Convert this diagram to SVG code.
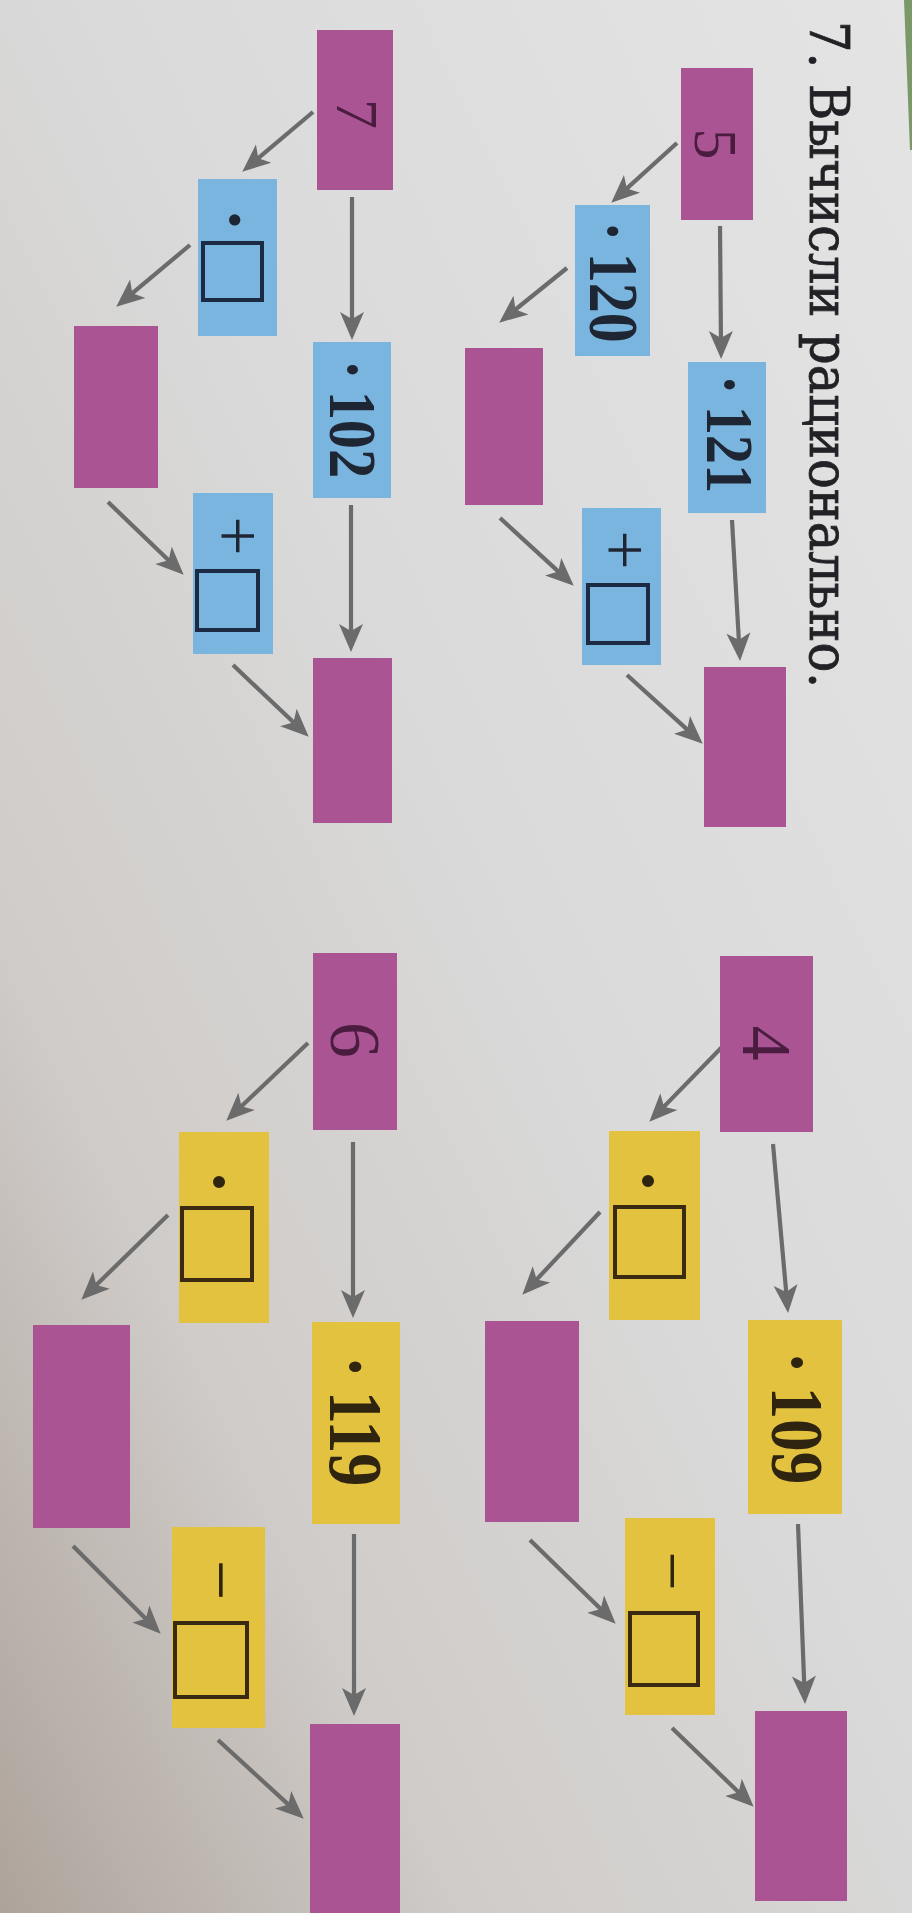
<svg xmlns="http://www.w3.org/2000/svg" width="912" height="1913" viewBox="0 0 912 1913">
<defs>
<linearGradient id="bg" x1="1" y1="0" x2="0" y2="1">
<stop offset="0" stop-color="#e4e4e4"/>
<stop offset="0.45" stop-color="#dadada"/>
<stop offset="0.75" stop-color="#cfcbc8"/>
<stop offset="1" stop-color="#ada39b"/>
</linearGradient>
<marker id="ah" markerUnits="userSpaceOnUse" viewBox="-17 -13 32 26" refX="0" refY="0" markerWidth="32" markerHeight="26" orient="auto">
<path d="M13,0 L-15,-12 L-8,0 L-15,12 Z" fill="#6b6b6b"/>
</marker>
<style>
.mag{fill:#aa5494}
.blu{fill:#7ab5df}
.yel{fill:#e3c23f}
.sq{fill:none;stroke-width:4}
.bsq{stroke:#1d2a44}
.ysq{stroke:#3a2a12}
.num{font-family:"Liberation Serif","Times New Roman",serif;font-weight:bold;text-anchor:middle}
.bt{fill:#1f2633}
.yt{fill:#2e2410}
.dig{font-family:"Liberation Serif","Times New Roman",serif;text-anchor:middle;fill:#4a1d40}
.op{font-family:"Liberation Serif","Times New Roman",serif;text-anchor:middle}
.title{font-family:"DejaVu Serif","Liberation Serif",serif;font-size:55px;fill:#222226;stroke:#222226;stroke-width:0.8}
#connectors line{stroke:#6b6b6b;stroke-width:4.2;fill:none;marker-end:url(#ah)}
</style>
</defs>
<rect x="0" y="0" width="912" height="1913" fill="url(#bg)"/>
<polygon points="904,0 912,0 912,150 910,150" fill="#7b9868"/>

<g id="title">
<text class="title" transform="translate(810,21) rotate(90)" x="0" y="0" textLength="667" lengthAdjust="spacingAndGlyphs">7. Вычисли рационально.</text>
</g>

<g id="connectors">
<line x1="720" y1="226" x2="721" y2="346"/>
<line x1="732" y1="520" x2="739.3" y2="648"/>
<line x1="677" y1="143" x2="620.9" y2="193.9"/>
<line x1="567" y1="268" x2="509.3" y2="314.5"/>
<line x1="500" y1="518" x2="564.2" y2="576.9"/>
<line x1="627" y1="675" x2="693.1" y2="734.9"/>

<line x1="352" y1="197" x2="352" y2="327"/>
<line x1="351" y1="505" x2="351" y2="639"/>
<line x1="313" y1="112" x2="252.2" y2="163.3"/>
<line x1="190" y1="245" x2="126.2" y2="298.3"/>
<line x1="108" y1="502" x2="174.3" y2="565.7"/>
<line x1="233" y1="665" x2="299.3" y2="727.8"/>

<line x1="773" y1="1144" x2="786.9" y2="1300"/>
<line x1="798" y1="1524" x2="804.5" y2="1691"/>
<line x1="723" y1="1046" x2="658.4" y2="1112.4"/>
<line x1="600" y1="1212" x2="531.2" y2="1285.3"/>
<line x1="530" y1="1540" x2="606.4" y2="1614.6"/>
<line x1="672" y1="1728" x2="744.3" y2="1797.7"/>

<line x1="353" y1="1142" x2="353" y2="1305"/>
<line x1="354" y1="1534" x2="354" y2="1703"/>
<line x1="308" y1="1043" x2="235.7" y2="1111.7"/>
<line x1="168" y1="1215" x2="90.6" y2="1290.6"/>
<line x1="73" y1="1546" x2="151.5" y2="1624.5"/>
<line x1="218" y1="1740" x2="294.2" y2="1809.9"/>
</g>

<!-- Diagram 1 -->
<g id="n5"><rect class="mag" x="681" y="68" width="72" height="152"/><text class="dig" font-size="62" transform="translate(716,144) rotate(90)" y="21">5</text></g>
<g id="n-mul121"><rect class="blu" x="688" y="362" width="78" height="151"/><text class="num bt" font-size="67" transform="translate(730,434) rotate(90) scale(0.87,1)" y="22.6">·<tspan dx="13">121</tspan></text></g>
<g id="n-res1"><rect class="mag" x="704" y="667" width="82" height="160"/></g>
<g id="n-mul120"><rect class="blu" x="575" y="205" width="75" height="151"/><text class="num bt" font-size="69" transform="translate(613,282) rotate(90) scale(0.87,1)" y="23.3">·<tspan dx="13">120</tspan></text></g>
<g id="n-mid1"><rect class="mag" x="465" y="348" width="78" height="157"/></g>
<g id="n-plus1"><rect class="blu" x="582" y="508" width="79" height="157"/><text class="op bt" font-size="70" transform="translate(618,550) rotate(90)" y="17.5">+</text><rect class="sq bsq" x="588" y="585" width="60" height="58"/></g>

<!-- Diagram 2 -->
<g id="n7"><rect class="mag" x="317" y="30" width="76" height="160"/><text class="dig" font-size="60" transform="translate(357,114) rotate(90)" y="20">7</text></g>
<g id="n-mul102"><rect class="blu" x="313" y="342" width="78" height="156"/><text class="num bt" font-size="67" transform="translate(353,419) rotate(90) scale(0.87,1)" y="22.6">·<tspan dx="13">102</tspan></text></g>
<g id="n-res2"><rect class="mag" x="313" y="658" width="79" height="165"/></g>
<g id="n-mulbox2"><rect class="blu" x="198" y="179" width="79" height="157"/><text class="num bt" font-size="70" transform="translate(230,220) rotate(90)" y="18">·</text><rect class="sq bsq" x="203" y="243" width="59" height="57"/></g>
<g id="n-mid2"><rect class="mag" x="74" y="326" width="84" height="162"/></g>
<g id="n-plus2"><rect class="blu" x="193" y="493" width="80" height="161"/><text class="op bt" font-size="70" transform="translate(231,536) rotate(90)" y="17.5">+</text><rect class="sq bsq" x="197" y="571" width="61" height="59"/></g>

<!-- Diagram 3 -->
<g id="n4"><rect class="mag" x="720" y="956" width="93" height="176"/><text class="dig" font-size="70" transform="translate(766,1043) rotate(90)" y="23.5">4</text></g>
<g id="n-mul109"><rect class="yel" x="748" y="1320" width="94" height="194"/><text class="num yt" font-size="75" transform="translate(797,1418) rotate(90) scale(0.87,1)" y="25.3">·<tspan dx="15">109</tspan></text></g>
<g id="n-res3"><rect class="mag" x="755" y="1711" width="92" height="190"/></g>
<g id="n-mulbox3"><rect class="yel" x="609" y="1131" width="91" height="189"/><text class="num yt" font-size="74" transform="translate(642,1181) rotate(90)" y="19">·</text><rect class="sq ysq" x="615" y="1207" width="69" height="70"/></g>
<g id="n-mid3"><rect class="mag" x="485" y="1321" width="94" height="201"/></g>
<g id="n-minus3"><rect class="yel" x="625" y="1518" width="90" height="197"/><text class="op yt" font-size="70" transform="translate(666,1571) rotate(90)" y="17.5">−</text><rect class="sq ysq" x="630" y="1613" width="68" height="72"/></g>

<!-- Diagram 4 -->
<g id="n6"><rect class="mag" x="313" y="953" width="84" height="177"/><text class="dig" font-size="72" transform="translate(355,1040) rotate(90)" y="24.3">6</text></g>
<g id="n-mul119"><rect class="yel" x="312" y="1322" width="88" height="202"/><text class="num yt" font-size="76" transform="translate(356,1421) rotate(90) scale(0.87,1)" y="25.7">·<tspan dx="15">119</tspan></text></g>
<g id="n-res4"><rect class="mag" x="310" y="1724" width="90" height="189"/></g>
<g id="n-mulbox4"><rect class="yel" x="179" y="1132" width="90" height="191"/><text class="num yt" font-size="74" transform="translate(213,1182) rotate(90)" y="19">·</text><rect class="sq ysq" x="182" y="1208" width="70" height="72"/></g>
<g id="n-mid4"><rect class="mag" x="33" y="1325" width="97" height="203"/></g>
<g id="n-minus4"><rect class="yel" x="172" y="1527" width="93" height="201"/><text class="op yt" font-size="72" transform="translate(215,1580) rotate(90)" y="18">−</text><rect class="sq ysq" x="175" y="1623" width="72" height="74"/></g>
</svg>
